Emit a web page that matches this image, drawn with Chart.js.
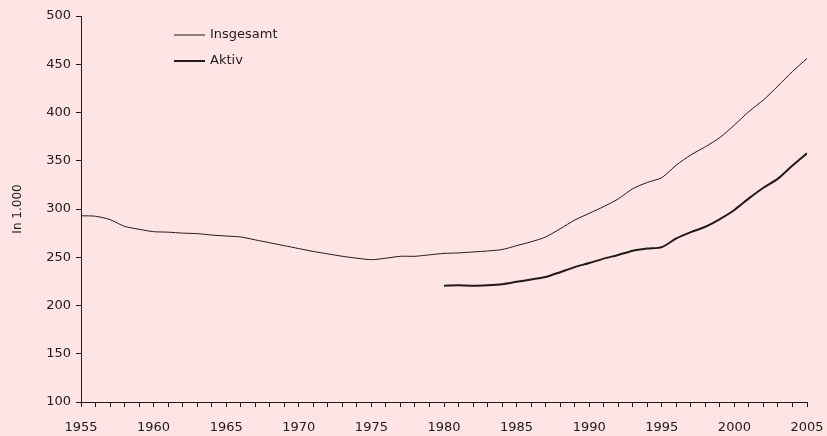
<!DOCTYPE html>
<html>
<head>
<meta charset="utf-8">
<script src="https://cdn.jsdelivr.net/npm/chart.js@4"></script>
<style>
  html, body { margin: 0; padding: 0; background: #FFE4E5; }
  #wrap { width: 827px; height: 436px; position: relative; }
</style>
</head>
<body>
<div id="wrap"><canvas id="myChart"></canvas></div>
<script>
const years = [];
for (let y = 1955; y <= 2005; y++) years.push(y);

const insgesamt = [293, 292.5, 289, 282, 279, 276.5, 276, 275, 274.5, 273, 272, 271, 268, 265, 262, 259, 256, 253.5, 251, 249, 247.5,
  249, 251, 251, 252.5, 254, 254.5, 255.5, 256.5, 258, 262, 266, 271, 279.5, 288.5, 295.5, 302.5, 310.5, 321, 327.5, 332.5,
  345.5, 356, 364.5, 374, 387, 401, 413, 427.5, 442.5, 456];

const aktivYears = [1980, 1981, 1982, 1983, 1984, 1985, 1986, 1987, 1988, 1989, 1990, 1991, 1992, 1993, 1994, 1995, 1996, 1997, 1998, 1999, 2000, 2001, 2002, 2003, 2004, 2005];
const aktiv = [220.5, 221, 220.5, 221, 222, 224.5, 227, 229.5, 234.5, 239.8, 244, 248.6, 252.4, 256.8, 259, 260.5, 269.5, 276, 281.6, 289.6, 299, 311, 322, 331.5, 345, 357.7];

const yTicks = [100, 150, 200, 250, 300, 350, 400, 450, 500];

const ink = '#1c1c1c';
const font = { family: 'DejaVu Sans', size: 13 };

// legend drawn inside the plot area, like the original
const insideLegend = {
  id: 'insideLegend',
  afterDraw(chart) {
    const c = chart.ctx;
    const a = chart.chartArea;
    const x0 = a.left + 93, y0 = a.top + 19;
    c.save();
    c.font = '13px "DejaVu Sans"';
    c.fillStyle = ink;
    c.textBaseline = 'middle';
    chart.data.datasets.forEach((ds, i) => {
      const y = y0 + i * 26;
      c.strokeStyle = ink;
      c.lineWidth = ds.borderWidth;
      c.beginPath();
      c.moveTo(x0, y);
      c.lineTo(x0 + 31, y);
      c.stroke();
      c.fillText(ds.label, x0 + 36, y);
    });
    c.restore();
  }
};

new Chart(document.getElementById('myChart'), {
  type: 'line',
  data: {
    datasets: [{
      label: 'Insgesamt',
      data: years.map((y, i) => ({ x: y, y: insgesamt[i] })),
      borderColor: ink,
      borderWidth: 1,
      pointRadius: 0,
      tension: 0.25,
      fill: false
    }, {
      label: 'Aktiv',
      data: aktivYears.map((y, i) => ({ x: y, y: aktiv[i] })),
      borderColor: ink,
      borderWidth: 2,
      pointRadius: 0,
      tension: 0.25,
      fill: false
    }]
  },
  options: {
    responsive: true,
    maintainAspectRatio: false,
    animation: false,
    layout: { padding: { left: 0, right: 20, top: 16, bottom: 0 } },
    plugins: {
      legend: { display: false },
      tooltip: { enabled: false }
    },
    scales: {
      x: {
        type: 'linear',
        min: 1955,
        max: 2005,
        afterFit: s => { s.height = 34; s.paddingLeft = 0; s.paddingRight = 0; },
        afterBuildTicks: s => { s.ticks = years.map(v => ({ value: v })); },
        ticks: {
          autoSkip: false,
          maxRotation: 0,
          color: ink,
          font: font,
          padding: 13,
          callback: v => (v % 5 === 0 ? String(v) : '')
        },
        grid: { drawOnChartArea: false, tickLength: 5, color: ink, tickColor: ink },
        border: { color: ink, width: 1 }
      },
      y: {
        min: 100,
        max: 500,
        afterFit: s => { s.width = 81; },
        afterBuildTicks: s => { s.ticks = yTicks.map(v => ({ value: v })); },
        ticks: { color: ink, font: font, padding: 5 },
        title: { display: true, text: 'In 1.000', color: ink, font: { family: 'DejaVu Sans', size: 12 }, padding: { top: 11, bottom: 0 } },
        grid: { drawOnChartArea: false, tickLength: 5, color: ink, tickColor: ink },
        border: { color: ink, width: 1 }
      }
    }
  },
  plugins: [insideLegend]
});
</script>
</body>
</html>
